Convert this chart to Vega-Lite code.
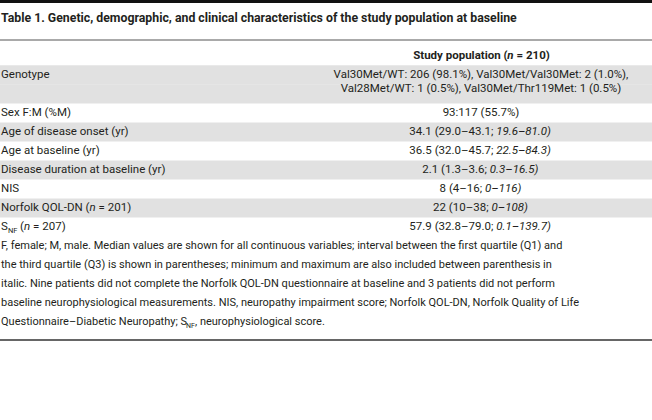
{
  "$schema": "https://vega.github.io/schema/vega-lite/v6.json",
  "width": 652,
  "height": 420,
  "autosize": "none",
  "padding": 0,
  "background": "white",
  "config": {
    "view": {"stroke": null},
    "text": {"font": "Roboto", "fontSize": 11.5, "color": "#231f20", "baseline": "middle"}
  },
  "datasets": {
    "table": [
      {"part": "title", "line": 0, "col": "label", "text": "Table 1. Genetic, demographic, and clinical characteristics of the study population at baseline"},
      {"part": "head", "line": 2, "col": "value", "text": "Study population ("},
      {"part": "headital", "line": 2, "col": "value", "text": "n"},
      {"part": "headrest", "line": 2, "col": "value", "text": "= 210)"},
      {"part": "cell", "r": 0, "line": 3, "col": "label", "text": "Genotype"},
      {"part": "cell", "r": 0, "line": 3, "col": "value", "text": "Val30Met/WT: 206 (98.1%), Val30Met/Val30Met: 2 (1.0%),"},
      {"part": "cont", "r": 0, "line": 4, "col": "value", "text": "Val28Met/WT: 1 (0.5%), Val30Met/Thr119Met: 1 (0.5%)"},
      {"part": "cell", "r": 1, "line": 5, "col": "label", "text": "Sex F:M (%M)"},
      {"part": "cell", "r": 1, "line": 5, "col": "value", "text": "93:117 (55.7%)"},
      {"part": "cell", "r": 2, "line": 6, "col": "label", "text": "Age of disease onset (yr)"},
      {"part": "vpre", "r": 2, "line": 6, "col": "value", "text": "34.1 (29.0–43.1;"},
      {"part": "vital", "r": 2, "line": 6, "col": "value", "text": "19.6–81.0)"},
      {"part": "cell", "r": 3, "line": 7, "col": "label", "text": "Age at baseline (yr)"},
      {"part": "vpre", "r": 3, "line": 7, "col": "value", "text": "36.5 (32.0–45.7;"},
      {"part": "vital", "r": 3, "line": 7, "col": "value", "text": "22.5–84.3)"},
      {"part": "cell", "r": 4, "line": 8, "col": "label", "text": "Disease duration at baseline (yr)"},
      {"part": "vpre", "r": 4, "line": 8, "col": "value", "text": "2.1 (1.3–3.6;"},
      {"part": "vital", "r": 4, "line": 8, "col": "value", "text": "0.3–16.5)"},
      {"part": "cell", "r": 5, "line": 9, "col": "label", "text": "NIS"},
      {"part": "vpre", "r": 5, "line": 9, "col": "value", "text": "8 (4–16;"},
      {"part": "vital", "r": 5, "line": 9, "col": "value", "text": "0–116)"},
      {"part": "cell", "r": 6, "line": 10, "col": "label", "text": "Norfolk QOL-DN ("},
      {"part": "labital", "r": 6, "line": 10, "col": "label", "text": "n"},
      {"part": "labrest", "r": 6, "line": 10, "col": "label", "text": "= 201)"},
      {"part": "vpre", "r": 6, "line": 10, "col": "value", "text": "22 (10–38;"},
      {"part": "vital", "r": 6, "line": 10, "col": "value", "text": "0–108)"},
      {"part": "cell", "r": 7, "line": 11, "col": "label", "text": "S"},
      {"part": "labsub", "r": 7, "line": 11, "col": "label", "text": "NF"},
      {"part": "labparen", "r": 7, "line": 11, "col": "label", "text": "("},
      {"part": "labital", "r": 7, "line": 11, "col": "label", "text": "n"},
      {"part": "labrest", "r": 7, "line": 11, "col": "label", "text": "= 207)"},
      {"part": "vpre", "r": 7, "line": 11, "col": "value", "text": "57.9 (32.8–79.0;"},
      {"part": "vital", "r": 7, "line": 11, "col": "value", "text": "0.1–139.7)"},
      {"part": "note", "line": 12, "col": "label", "text": "F, female; M, male. Median values are shown for all continuous variables; interval between the first quartile (Q1) and"},
      {"part": "note", "line": 13, "col": "label", "text": "the third quartile (Q3) is shown in parentheses; minimum and maximum are also included between parenthesis in"},
      {"part": "note", "line": 14, "col": "label", "text": "italic. Nine patients did not complete the Norfolk QOL-DN questionnaire at baseline and 3 patients did not perform"},
      {"part": "note", "line": 15, "col": "label", "text": "baseline neurophysiological measurements. NIS, neuropathy impairment score; Norfolk QOL-DN, Norfolk Quality of Life"},
      {"part": "note", "line": 16, "col": "label", "text": "Questionnaire–Diabetic Neuropathy; S"},
      {"part": "notesub", "line": 16, "col": "label", "text": "NF"},
      {"part": "noterest", "line": 16, "col": "label", "text": ", neurophysiological score."}
    ]
  },
  "data": {"name": "table"},
  "encoding": {
    "y": {"field": "line", "type": "quantitative", "scale": {"domain": [0, 17], "range": [18, 341], "zero": false, "nice": false}, "axis": null},
    "x": {"field": "col", "type": "nominal", "scale": {"type": "point", "domain": ["label", "value"], "range": [1, 481], "padding": 0}, "axis": null}
  },
  "layer": [
    {
      "transform": [{"filter": "(datum.part === 'cell' || datum.part === 'cont') && datum.r % 2 === 0"}],
      "mark": {"type": "rule", "strokeWidth": 19, "color": "#e1e1e1", "strokeCap": "butt"},
      "encoding": {"x": {"value": 0}, "x2": {"value": 652}}
    },
    {
      "transform": [{"filter": "datum.part === 'title'"}],
      "mark": {"type": "rule", "strokeWidth": 3, "color": "#111111", "yOffset": -16.5},
      "encoding": {"x": {"value": 0}, "x2": {"value": 652}}
    },
    {
      "transform": [{"filter": "datum.part === 'title'"}],
      "mark": {"type": "rule", "strokeWidth": 1, "color": "#555555", "yOffset": 22},
      "encoding": {"x": {"value": 0}, "x2": {"value": 652}}
    },
    {
      "transform": [{"filter": "datum.part === 'note' && datum.line === 16"}],
      "mark": {"type": "rule", "strokeWidth": 2, "color": "#666666", "yOffset": 18},
      "encoding": {"x": {"value": 0}, "x2": {"value": 652}}
    },
    {
      "transform": [{"filter": "datum.part === 'title'"}],
      "mark": {"type": "text", "align": "left", "fontWeight": "bold", "fontSize": 12.3},
      "encoding": {"text": {"field": "text"}}
    },
    {
      "transform": [{"filter": "datum.part === 'head'"}],
      "mark": {"type": "text", "align": "left", "fontWeight": "bold", "dx": -67.8},
      "encoding": {"text": {"field": "text"}}
    },
    {
      "transform": [{"filter": "datum.part === 'headital'"}],
      "mark": {"type": "text", "align": "left", "fontWeight": "bold", "fontStyle": "italic", "dx": 26.2},
      "encoding": {"text": {"field": "text"}}
    },
    {
      "transform": [{"filter": "datum.part === 'headrest'"}],
      "mark": {"type": "text", "align": "left", "fontWeight": "bold", "dx": 35.5},
      "encoding": {"text": {"field": "text"}}
    },
    {
      "transform": [{"filter": "datum.part === 'cell' && datum.col === 'label'"}],
      "mark": {"type": "text", "align": "left"},
      "encoding": {"text": {"field": "text"}}
    },
    {
      "transform": [{"filter": "datum.part === 'cell' && datum.col === 'value'"}],
      "mark": {"type": "text", "align": "center"},
      "encoding": {"text": {"field": "text"}}
    },
    {
      "transform": [{"filter": "datum.part === 'cont'"}],
      "mark": {"type": "text", "align": "center", "yOffset": -5},
      "encoding": {"text": {"field": "text"}}
    },
    {
      "transform": [{"filter": "datum.part === 'vpre' && (datum.r === 2 || datum.r === 3 || datum.r === 7)"}],
      "mark": {"type": "text", "align": "right", "dx": 12.4},
      "encoding": {"text": {"field": "text"}}
    },
    {
      "transform": [{"filter": "datum.part === 'vital' && (datum.r === 2 || datum.r === 3 || datum.r === 7)"}],
      "mark": {"type": "text", "align": "left", "fontStyle": "italic", "dx": 15.2},
      "encoding": {"text": {"field": "text"}}
    },
    {
      "transform": [{"filter": "datum.part === 'vpre' && datum.r === 4"}],
      "mark": {"type": "text", "align": "right", "dx": 5.9},
      "encoding": {"text": {"field": "text"}}
    },
    {
      "transform": [{"filter": "datum.part === 'vital' && datum.r === 4"}],
      "mark": {"type": "text", "align": "left", "fontStyle": "italic", "dx": 8.8},
      "encoding": {"text": {"field": "text"}}
    },
    {
      "transform": [{"filter": "datum.part === 'vpre' && datum.r === 5"}],
      "mark": {"type": "text", "align": "right", "dx": 1.2},
      "encoding": {"text": {"field": "text"}}
    },
    {
      "transform": [{"filter": "datum.part === 'vital' && datum.r === 5"}],
      "mark": {"type": "text", "align": "left", "fontStyle": "italic", "dx": 4.0},
      "encoding": {"text": {"field": "text"}}
    },
    {
      "transform": [{"filter": "datum.part === 'vpre' && datum.r === 6"}],
      "mark": {"type": "text", "align": "right", "dx": 7.6},
      "encoding": {"text": {"field": "text"}}
    },
    {
      "transform": [{"filter": "datum.part === 'vital' && datum.r === 6"}],
      "mark": {"type": "text", "align": "left", "fontStyle": "italic", "dx": 10.5},
      "encoding": {"text": {"field": "text"}}
    },
    {
      "transform": [{"filter": "datum.part === 'labital' && datum.r === 6"}],
      "mark": {"type": "text", "align": "left", "fontStyle": "italic", "dx": 88.4},
      "encoding": {"text": {"field": "text"}}
    },
    {
      "transform": [{"filter": "datum.part === 'labrest' && datum.r === 6"}],
      "mark": {"type": "text", "align": "left", "dx": 97.6},
      "encoding": {"text": {"field": "text"}}
    },
    {
      "transform": [{"filter": "datum.part === 'labsub'"}],
      "mark": {"type": "text", "align": "left", "fontSize": 7.5, "dx": 7, "dy": 4},
      "encoding": {"text": {"field": "text"}}
    },
    {
      "transform": [{"filter": "datum.part === 'labparen'"}],
      "mark": {"type": "text", "align": "left", "dx": 19},
      "encoding": {"text": {"field": "text"}}
    },
    {
      "transform": [{"filter": "datum.part === 'labital' && datum.r === 7"}],
      "mark": {"type": "text", "align": "left", "fontStyle": "italic", "dx": 22.9},
      "encoding": {"text": {"field": "text"}}
    },
    {
      "transform": [{"filter": "datum.part === 'labrest' && datum.r === 7"}],
      "mark": {"type": "text", "align": "left", "dx": 32.1},
      "encoding": {"text": {"field": "text"}}
    },
    {
      "transform": [{"filter": "datum.part === 'note'"}],
      "mark": {"type": "text", "align": "left", "fontSize": 11},
      "encoding": {"text": {"field": "text"}}
    },
    {
      "transform": [{"filter": "datum.part === 'notesub'"}],
      "mark": {"type": "text", "align": "left", "fontSize": 7, "dx": 185, "dy": 4},
      "encoding": {"text": {"field": "text"}}
    },
    {
      "transform": [{"filter": "datum.part === 'noterest'"}],
      "mark": {"type": "text", "align": "left", "fontSize": 11, "dx": 194},
      "encoding": {"text": {"field": "text"}}
    }
  ]
}
